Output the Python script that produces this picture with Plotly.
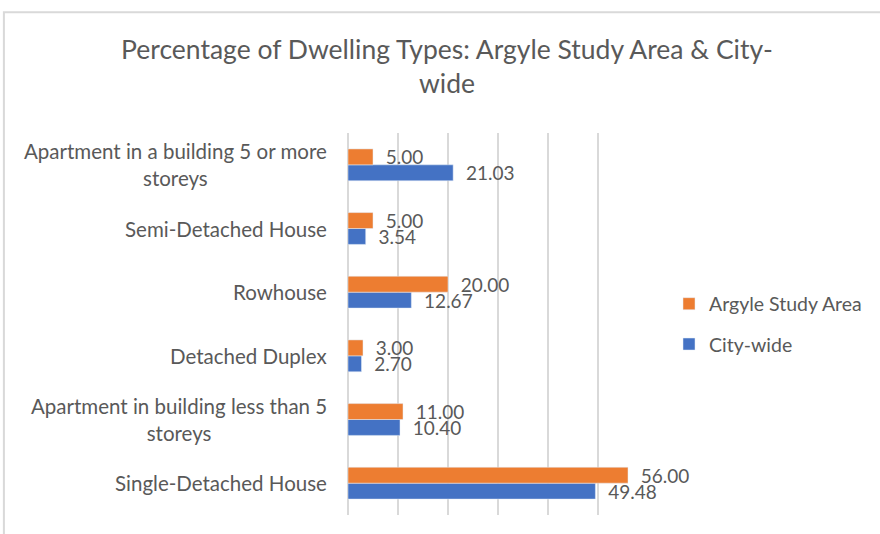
# Dwelling types: Argyle Study Area vs City-wide
import plotly.graph_objects as go

# Data (bottom to top, as drawn)
categories = [
    'Single-Detached House',
    'Apartment in building less than 5<br>storeys',
    'Detached Duplex',
    'Rowhouse',
    'Semi-Detached House',
    'Apartment in a building 5 or more<br>storeys',
]
argyle = [56.00, 11.00, 3.00, 20.00, 5.00, 5.00]
citywide = [49.48, 10.40, 2.70, 12.67, 3.54, 21.03]

FONT = 'Lato'
GREY = '#595959'

fig = go.Figure()
fig.add_trace(go.Bar(
    y=categories, x=citywide, name='City-wide', orientation='h',
    marker_color='#4472c4', legendgroup='b', legendrank=2,
    texttemplate='\u00a0\u00a0%{x:.2f}', textposition='outside',
    textfont=dict(family=FONT, size=19, color=GREY),
    constraintext='none', cliponaxis=False,
))
fig.add_trace(go.Bar(
    y=categories, x=argyle, name='Argyle Study Area', orientation='h',
    marker_color='#ed7d31', legendgroup='a', legendrank=1,
    texttemplate='\u00a0\u00a0%{x:.2f}', textposition='outside',
    textfont=dict(family=FONT, size=19, color=GREY),
    constraintext='none', cliponaxis=False,
))

# category labels as annotations so two-line labels are centred like the original
for cat in categories:
    fig.add_annotation(
        x=-0.062, xref='paper', y=cat, yref='y', text=cat,
        xanchor='right', align='center', showarrow=False,
        font=dict(family=FONT, size=20.5, color=GREY),
    )

fig.update_layout(
    width=880, height=534,
    paper_bgcolor='white', plot_bgcolor='white',
    margin=dict(l=348, r=232, t=133, b=19, autoexpand=False),
    barmode='group', bargap=0.5, bargroupgap=0,
    title=dict(
        text='Percentage of Dwelling Types: Argyle Study Area & City-<br>wide',
        x=0.508, xanchor='center', y=0.89, yanchor='top',
        font=dict(family=FONT, size=26.5, color=GREY),
    ),
    xaxis=dict(
        range=[0, 60], dtick=10, showticklabels=False,
        showgrid=True, gridcolor='#d9d9d9', gridwidth=1.5,
        zeroline=True, zerolinecolor='#d9d9d9', zerolinewidth=1.5,
        showline=False, fixedrange=True,
    ),
    yaxis=dict(showticklabels=False, showgrid=False, showline=False),
    legend=dict(
        x=1.07, y=0.5, xanchor='left', yanchor='middle',
        traceorder='grouped',
        font=dict(family=FONT, size=19.5, color=GREY),
        itemwidth=30, tracegroupgap=12,
    ),
    shapes=[dict(
        type='rect', xref='paper', yref='paper',
        x0=-1.147, x1=2.0, y0=-0.3, y1=1.316,
        line=dict(color='#d9d9d9', width=2), layer='below',
    )],
)

fig.write_html('out.html', config={'displayModeBar': False},
               post_script="document.body.style.margin='0';")
